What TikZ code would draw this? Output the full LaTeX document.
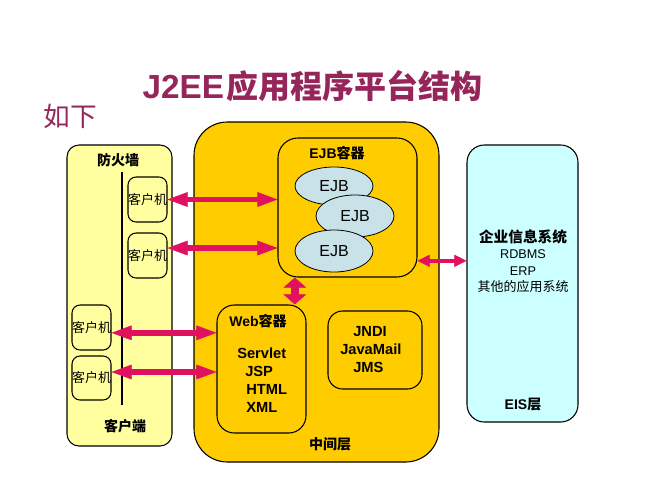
\documentclass[tikz,border=0pt]{standalone}
\usepackage{fontspec}
\setmainfont{Liberation Sans}
\newfontfamily\cjk{Noto Sans CJK SC}
\usetikzlibrary{shapes.geometric,arrows.meta}

\definecolor{midyellow}{RGB}{255,204,0}
\definecolor{cliyellow}{RGB}{255,255,160}
\definecolor{eiscyan}{RGB}{204,255,255}
\definecolor{ejbblue}{RGB}{200,226,232}
\definecolor{arrowpink}{RGB}{224,18,96}
\definecolor{titlered}{RGB}{150,38,90}

\tikzset{
  box/.style={draw=black, line width=0.8pt, inner sep=0pt},
  ejb/.style={ellipse, draw=black, line width=0.6pt, fill=ejbblue, minimum width=58.5pt, inner sep=0pt, font=\fontsize{12}{14}\selectfont},
  cliarrow/.style={draw=arrowpink, line width=4pt, {Triangle[length=15pt,width=11pt,line width=0.4pt]}-{Triangle[length=15pt,width=11pt,line width=0.4pt]}},
  fatarrow/.style={draw=arrowpink, line width=6pt, {Triangle[length=7.5pt,width=17pt,line width=0.4pt]}-{Triangle[length=7.5pt,width=17pt,line width=0.4pt]}},
  eisarrow/.style={draw=arrowpink, line width=3pt, {Triangle[length=9pt,width=9pt,line width=0.4pt]}-{Triangle[length=9pt,width=9pt,line width=0.4pt]}},
  cnbold/.style={inner sep=0pt, font=\cjk\bfseries\fontsize{10.5}{12}\selectfont},
  cnreg/.style={inner sep=0pt, font=\cjk\fontsize{9.75}{12}\selectfont},
  enbold/.style={inner sep=0pt, font=\bfseries\fontsize{11}{13}\selectfont},
  enreg/.style={inner sep=0pt, font=\fontsize{9.5}{11}\selectfont}
}

\begin{document}
\begin{tikzpicture}[x=0.75pt,y=0.75pt,yscale=-1,xscale=1]
\useasboundingbox (0,0) rectangle (667,500);

% Title
\draw (312.5,86) node [inner sep=0pt, text=titlered] (title) {{\bfseries\fontsize{25}{30}\selectfont J2EE}\,{\cjk\bfseries\fontsize{24}{28}\selectfont 应用程序平台结构}};
\draw (70,116) node [inner sep=0pt, text=titlered, font=\cjk\fontsize{20}{24}\selectfont] (rumore) {如下};

%Rounded Rect client tier
\node [box, fill=cliyellow, rounded corners=9pt, minimum width=78.75pt, minimum height=225.75pt] (client) at (119.5,295.5) {};
%Rounded Rect middle tier
\node [box, fill=midyellow, rounded corners=25pt, minimum width=183.75pt, minimum height=255pt] (mid) at (316.5,292) {};
%Rounded Rect EIS tier
\node [box, fill=eiscyan, rounded corners=13pt, minimum width=83.25pt, minimum height=207.75pt] (eis) at (522.5,283.5) {};

%Firewall line
\coordinate (fwtop) at (122,172);
\coordinate (fwbot) at (122,405);
\draw [line width=0.9pt] (fwtop) -- (fwbot);

%Client machines
\node [box, cnreg, rounded corners=6pt, minimum width=29.25pt, minimum height=33.75pt] (cl1) at (147.5,199.5) {客户机};
\node [box, cnreg, rounded corners=6pt, minimum width=29.25pt, minimum height=33.75pt] (cl2) at (147.5,255.5) {客户机};
\node [box, cnreg, rounded corners=6pt, minimum width=29.25pt, minimum height=33.75pt] (cl3) at (91.5,327.5) {客户机};
\node [box, cnreg, rounded corners=6pt, minimum width=29.25pt, minimum height=33pt] (cl4) at (91.5,378) {客户机};

%Rounded Rect EJB container
\node [box, rounded corners=15pt, minimum width=104.25pt, minimum height=104.25pt] (ejbc) at (347.5,207.5) {};
%Rounded Rect Web container
\node [box, rounded corners=13pt, minimum width=66.75pt, minimum height=96pt] (web) at (261.5,369) {};
%Rounded Rect services
\node [box, rounded corners=11pt, minimum width=70.5pt, minimum height=58.5pt] (svc) at (375,350) {};

%EJBs
\node [ejb, minimum height=28.5pt] (ejb1) at (334,186) {EJB};
\node [ejb, minimum height=31.5pt] (ejb2) at (355,216) {EJB};
\node [ejb, minimum height=31.5pt] (ejb3) at (334,251) {EJB};

% Text Node
\draw (118,160) node [cnbold] (fwlbl) {防火墙};
\draw (125,426) node [cnbold] (clilbl) {客户端};
\draw (337,153) node [enbold, font=\bfseries\fontsize{10.5}{12}\selectfont] (ejbclbl) {EJB{\cjk 容器}};
\draw (258,321) node [enbold, font=\bfseries\fontsize{10.5}{12}\selectfont] (weblbl) {Web{\cjk 容器}};
\draw (237,353) node [enbold, anchor=west] (servlet) {Servlet};
\draw (245,371) node [enbold, anchor=west] (jsp) {JSP};
\draw (246,389) node [enbold, anchor=west] (html) {HTML};
\draw (246,407) node [enbold, anchor=west] (xml) {XML};
\draw (353,332) node [enbold, anchor=west] (jndi) {JNDI};
\draw (340,349) node [enbold, anchor=west] (javamail) {JavaMail};
\draw (353,367) node [enbold, anchor=west] (jms) {JMS};
\draw (330,444) node [cnbold] (midlbl) {中间层};
\draw (523,237) node [cnbold, font=\cjk\bfseries\fontsize{11}{13}\selectfont] (eisname) {企业信息系统};
\draw (523,254) node [enreg] (rdbms) {RDBMS};
\draw (523,271) node [enreg] (erp) {ERP};
\draw (523,287) node [cnreg] (other) {其他的应用系统};
\draw (523,405) node [enbold, font=\bfseries\fontsize{10.5}{12}\selectfont] (eislbl) {EIS{\cjk 层}};

%Arrows
\draw [cliarrow] (cl1.east) -- (cl1.east -| ejbc.west);
\draw [cliarrow] ([yshift=-5.6pt]cl2.east) -- ([yshift=-5.6pt]cl2.east -| ejbc.west);
\draw [cliarrow] ([yshift=4pt]cl3.east) -- ([yshift=4pt]cl3.east -| web.west);
\draw [cliarrow] ([yshift=-4.5pt]cl4.east) -- ([yshift=-4.5pt]cl4.east -| web.west);
\draw [eisarrow] ([yshift=40pt]ejbc.east) -- ([yshift=40pt]ejbc.east -| eis.west);
\draw [fatarrow] ([xshift=25pt]web.north) -- ([xshift=25pt]web.north |- ejbc.south);

\end{tikzpicture}
\end{document}
